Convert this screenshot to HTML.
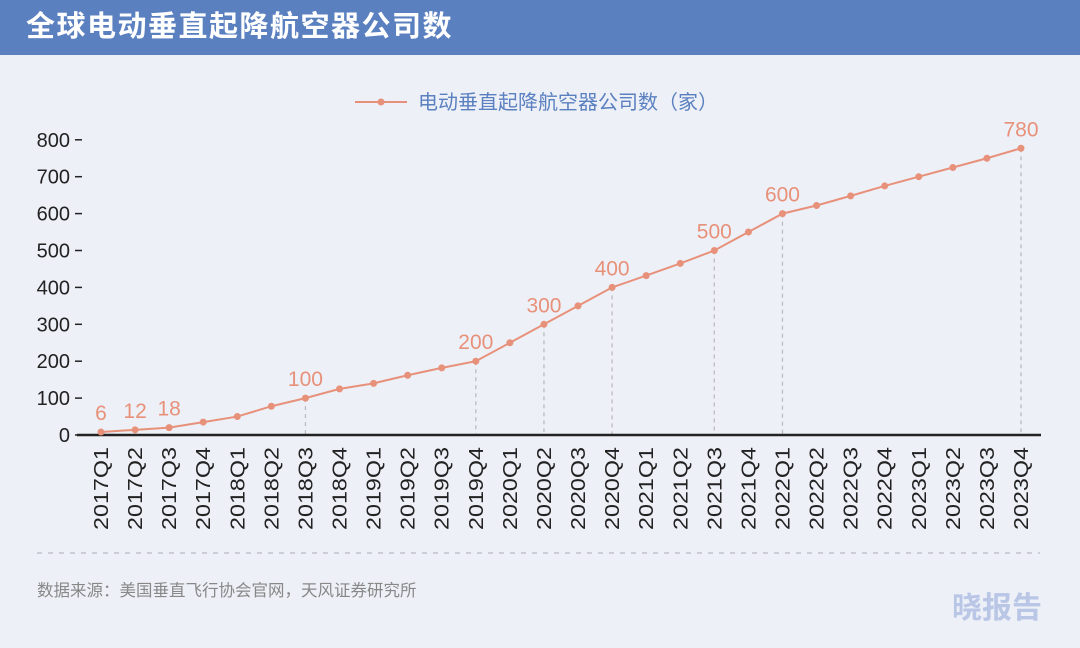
<!DOCTYPE html><html><head><meta charset="utf-8"><style>
body{margin:0;width:1080px;height:648px;background:#edf0f7;font-family:"Liberation Sans","Noto Sans CJK SC",sans-serif;overflow:hidden}
.hd{position:absolute;left:0;top:0;width:1080px;height:55px;background:#5b80c0;color:#fff;font-size:29px;font-weight:bold;line-height:55px;padding-left:26px;box-sizing:border-box;letter-spacing:1.5px}
</style></head><body>
<div class="hd">全球电动垂直起降航空器公司数</div>
<svg id="s" width="1080" height="648" style="position:absolute;left:0;top:0" font-family="Liberation Sans, Noto Sans CJK SC, sans-serif"></svg>
<script>
const d=[8,14,20,35,50,78,100,125,140,162,182,200,250,300,350,400,432,465,500,550,600,622,648,675,700,725,750,777];
const lv={0:6,1:12,2:18,6:100,11:200,13:300,15:400,18:500,20:600,27:780};
const X=i=>101+i*920/27, Y=v=>435-v*0.369;
let h='';
h+='<line x1="355" y1="102" x2="407" y2="102" stroke="#e8917a" stroke-width="2"/><circle cx="381" cy="102" r="3.5" fill="#e8917a"/>';
h+='<text x="418" y="109" font-size="20" fill="#5b80c0">电动垂直起降航空器公司数（家）</text>';
for(let v=0;v<=800;v+=100){h+=`<text x="70" y="${Y(v)+7}" font-size="20" text-anchor="end" fill="#222">${v}</text><line x1="75" x2="82" y1="${Y(v)}" y2="${Y(v)}" stroke="#222" stroke-width="1.5"/>`;}
for(const i in lv){if(i>=3)h+=`<line x1="${X(+i)}" x2="${X(+i)}" y1="${Y(d[i])}" y2="435" stroke="#bbb" stroke-width="1.3" stroke-dasharray="4,4"/>`;}
h+='<line x1="77" x2="1041" y1="435" y2="435" stroke="#222" stroke-width="2.5"/>';
h+=`<polyline fill="none" stroke="#e8917a" stroke-width="2" points="${d.map((v,i)=>X(i)+','+Y(v)).join(' ')}"/>`;
const q=['Q1','Q2','Q3','Q4'];
d.forEach((v,i)=>{h+=`<circle cx="${X(i)}" cy="${Y(v)}" r="3.5" fill="#e8917a"/>`;
 if(lv[i]!==undefined)h+=`<text x="${X(i)}" y="${Y(v)-12}" font-size="21" text-anchor="middle" fill="#e8917a">${lv[i]}</text>`;
 const t=(2017+Math.floor(i/4))+q[i%4];
 h+=`<text transform="translate(${X(i)+7},447) rotate(-90)" font-size="20" textLength="83" lengthAdjust="spacingAndGlyphs" text-anchor="end" fill="#222">${t}</text>`;});
h+='<line x1="37" x2="1040" y1="553" y2="553" stroke="#aab" stroke-width="1" stroke-dasharray="5,6"/>';
h+='<text x="37" y="596" font-size="16.5" fill="#888">数据来源：美国垂直飞行协会官网，天风证券研究所</text>';
h+='<text x="1042" y="618" font-size="30" font-weight="bold" text-anchor="end" fill="#b9c6e6">晓报告</text>';
document.getElementById('s').innerHTML=h;
</script></body></html>
